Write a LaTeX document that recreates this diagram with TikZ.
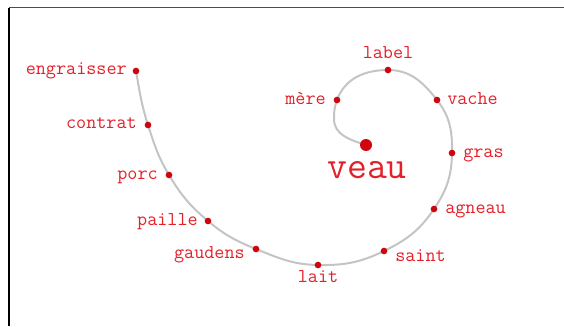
\documentclass[tikz,border=0pt]{standalone}
\usepackage{fontspec}
\pgfdeclarelayer{background}
\pgfsetlayers{background,main}
\definecolor{txtred}{RGB}{228,32,42}
\definecolor{dotred}{RGB}{205,5,15}
\definecolor{curvegray}{RGB}{196,196,196}
\tikzset{
  dot/.style={circle,fill=dotred,draw=none,inner sep=0pt,minimum size=5pt},
  bigdot/.style={circle,fill=dotred!90!red,draw=none,inner sep=0pt,minimum size=9pt},
  lbl/.style={text=txtred,inner sep=0pt,font=\ttfamily\fontsize{14.7pt}{16pt}\selectfont},
  biglbl/.style={text=txtred,inner sep=0pt,font=\ttfamily\fontsize{29pt}{32pt}\selectfont},
  spiral/.style={draw=curvegray,line width=1.5pt},
  frametop/.style={draw=black!70,line width=1.2pt},
  frameleft/.style={draw=black,line width=1.1pt}
}
\begin{document}
\begin{tikzpicture}[x=0.75pt,y=0.75pt]
\useasboundingbox (0,0) rectangle (564,326);
% frame
\coordinate (ftl) at (9,318.5);
\coordinate (ftr) at (564,318.5);
\coordinate (fbl) at (9,0);
\draw[frametop] (ftl) -- (ftr);
\draw[frameleft] (ftl) -- (fbl);
% dots
\node[bigdot] (veau) at (366,181) {};
\node[dot] (mere) at (337,226) {};
\node[dot] (label) at (388,256) {};
\node[dot] (vache) at (437,226) {};
\node[dot] (gras) at (452,173) {};
\node[dot] (agneau) at (434,117) {};
\node[dot] (saint) at (384,75) {};
\node[dot] (lait) at (318,61) {};
\node[dot] (gaudens) at (256,77) {};
\node[dot] (paille) at (208,105) {};
\node[dot] (porc) at (169,151) {};
\node[dot] (contrat) at (148,201) {};
\node[dot] (engraisser) at (136,255) {};
\coordinate (h1) at (334,207);
% spiral
\begin{pgfonlayer}{background}
\draw[spiral] (veau.center)
  to[out=162,in=-90] (h1)
  to[out=90,in=-110] (mere.center)
  to[out=70,in=180] (label.center)
  to[out=0,in=128] (vache.center)
  to[out=-52,in=89] (gras.center)
  to[out=-91,in=56] (agneau.center)
  to[out=-124,in=26] (saint.center)
  to[out=-154,in=-1] (lait.center)
  to[out=179,in=-22] (gaudens.center)
  to[out=158,in=-40] (paille.center)
  to[out=140,in=-59] (porc.center)
  to[out=121,in=-72] (contrat.center)
  to[out=108,in=-80] (engraisser.center);
\end{pgfonlayer}
% labels
\node[biglbl,anchor=base] (t-veau) at (367,148) {veau};
\node[lbl,anchor=base east] (t-mere) at (326,222) {mère};
\node[lbl,anchor=base] (t-label) at (388,268) {label};
\node[lbl,anchor=base west] (t-vache) at (447,222) {vache};
\node[lbl,anchor=base west] (t-gras) at (463,169) {gras};
\node[lbl,anchor=base west] (t-agneau) at (445,113) {agneau};
\node[lbl,anchor=base west] (t-saint) at (395,65) {saint};
\node[lbl,anchor=base] (t-lait) at (318,44) {lait};
\node[lbl,anchor=base east] (t-gaudens) at (245,68) {gaudens};
\node[lbl,anchor=base east] (t-paille) at (198,101) {paille};
\node[lbl,anchor=base east] (t-porc) at (158,147) {porc};
\node[lbl,anchor=base east] (t-contrat) at (137,198) {contrat};
\node[lbl,anchor=base east] (t-engraisser) at (127,252) {engraisser};
\end{tikzpicture}
\end{document}
